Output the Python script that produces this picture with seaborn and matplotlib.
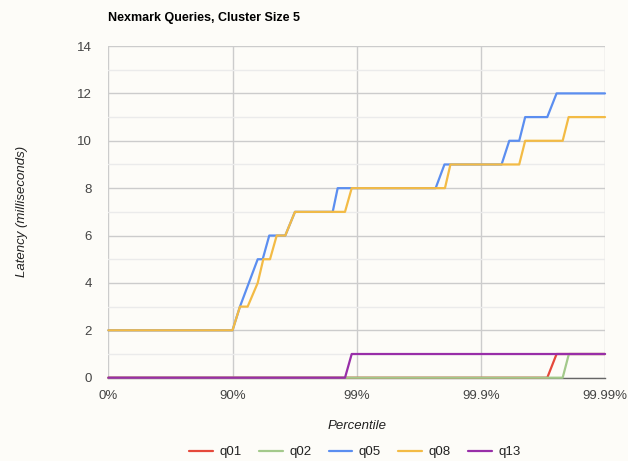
import matplotlib
matplotlib.use("Agg")
import matplotlib.pyplot as plt
import numpy as np
import pandas as pd
import seaborn as sns

# x positions are in "nines": 0 -> 0%, 1 -> 90%, 2 -> 99%, 3 -> 99.9%, 4 -> 99.99%
tick_positions = [0, 1, 2, 3, 4]
tick_labels = ["0%", "90%", "99%", "99.9%", "99.99%"]

queries = ["q01", "q02", "q05", "q08", "q13"]

q01_x = [0.0, 3.535, 3.610, 4.0]
q01_y = [0, 0, 1, 1]

q02_x = [0.0, 3.659, 3.709, 4.0]
q02_y = [0, 0, 1, 1]

q05_x = [0.0, 1.0, 1.060, 1.203, 1.243, 1.296, 1.425, 1.503, 1.807, 1.847,
         2.636, 2.707, 3.167, 3.229, 3.309, 3.357, 3.535, 3.610, 4.0]
q05_y = [2, 2, 3, 5, 5, 6, 6, 7, 7, 8,
         8, 9, 9, 10, 10, 11, 11, 12, 12]

q08_x = [0.0, 1.0, 1.060, 1.122, 1.203, 1.248, 1.302, 1.356, 1.425, 1.503,
         1.906, 1.960, 2.711, 2.755, 3.309, 3.357, 3.659, 3.707, 4.0]
q08_y = [2, 2, 3, 3, 4, 5, 5, 6, 6, 7,
         7, 8, 8, 9, 9, 10, 10, 11, 11]

q13_x = [0.0, 1.906, 1.960, 4.0]
q13_y = [0, 0, 1, 1]

colors = ["#e5483b", "#a3c98b", "#5b8ef0", "#f3bb45", "#982ea8"]

series = {
    "q01": (q01_x, q01_y),
    "q02": (q02_x, q02_y),
    "q05": (q05_x, q05_y),
    "q08": (q08_x, q08_y),
    "q13": (q13_x, q13_y),
}
frames = []
for name in queries:
    xs, ys = series[name]
    frames.append(pd.DataFrame({"query": name, "nines": xs, "latency": ys}))
df = pd.concat(frames, ignore_index=True)

sns.set_theme(style="white")
plt.rcParams["font.family"] = ["Liberation Sans", "DejaVu Sans"]

bg = "#fdfcf8"
fig = plt.figure(figsize=(6.28, 4.61), dpi=100, facecolor=bg)
ax = fig.add_axes([0.1725, 0.1807, 0.7909, 0.7195], facecolor=bg)

sns.lineplot(
    data=df, x="nines", y="latency", hue="query", hue_order=queries,
    palette=colors, estimator=None, linewidth=1.6, ax=ax, legend=False,
)
for line in ax.lines:
    line.set_clip_on(False)
    line.set_zorder(3)

ax.set_xlim(0, 4)
ax.set_ylim(0, 14)
ax.set_xticks(tick_positions)
ax.set_xticklabels(tick_labels)
ax.set_yticks(np.arange(0, 15, 2))
ax.set_yticks(np.arange(1, 15, 2), minor=True)

ax.grid(True, which="major", color="#cccccc", linewidth=1.0)
ax.grid(True, which="minor", axis="y", color="#ebebeb", linewidth=1.0)
ax.set_axisbelow(True)
for side in ["top", "right", "left"]:
    ax.spines[side].set_visible(False)
ax.spines["bottom"].set_color("#666666")
ax.spines["bottom"].set_linewidth(1.0)
ax.spines["bottom"].set_zorder(1)

ax.tick_params(axis="both", which="both", length=0, labelsize=9.5, labelcolor="#444444")
ax.tick_params(axis="x", pad=9)
ax.tick_params(axis="y", pad=12)

ax.set_xlabel("Percentile", fontsize=9.5, style="italic", color="#222222", labelpad=13)
ax.set_ylabel("Latency (milliseconds)", fontsize=9.5, style="italic", color="#222222", labelpad=35)

fig.text(0.1725, 0.962, "Nexmark Queries, Cluster Size 5", fontsize=9, fontweight="bold",
         color="#000000", ha="left", va="center")

handles = [plt.Line2D([0], [0], color=c, linewidth=1.6) for c in colors]
fig.legend(handles, queries, loc="center", bbox_to_anchor=(0.565, 0.019), ncol=5,
           frameon=False, fontsize=9.5, handlelength=1.8, columnspacing=1.3,
           handletextpad=0.5, labelcolor="#222222")

fig.savefig("out.png", dpi=100, facecolor=bg)
